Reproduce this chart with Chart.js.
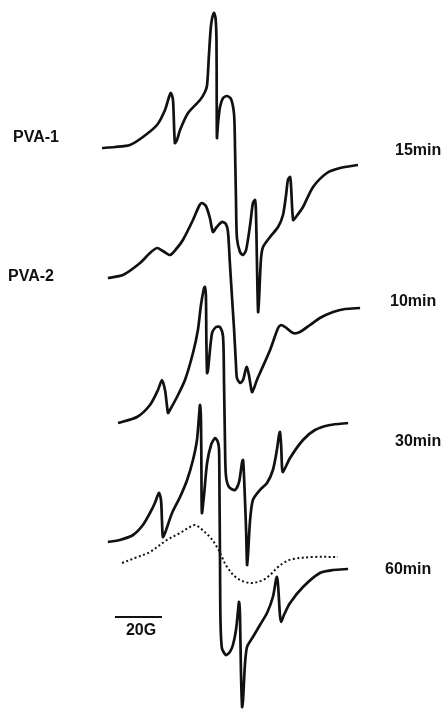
<!DOCTYPE html>
<html>
<head>
<meta charset="utf-8">
<script src="https://cdn.jsdelivr.net/npm/chart.js@4/dist/chart.umd.min.js"></script>
<style>
  html, body { margin: 0; padding: 0; background: #fff; }
  #wrap { width: 448px; height: 709px; }
</style>
</head>
<body>
<div id="wrap"><canvas id="esr" width="448" height="709"></canvas></div>
<script>
// ESR spectra: field offset from line centre (G) and signal (arb. units above baseline)
const field15 = [-55.3, -49.8, -43.4, -37.9, -31.9, -28.5, -26.8, -26.0, -25.1, -24.3, -23.4, -22.1, -18.7, -13.6, -11.5, -10.6, -9.8, -8.9, -7.7, -7.0, -6.6, -6.5, -6.4, -6.0, -5.1, -3.8, -2.1, -0.4, 0.9, 1.3, 1.7, 2.1, 3.4, 4.7, 6.0, 7.7, 8.9, 9.8, 10.2, 10.6, 11.1, 11.5, 12.3, 13.2, 16.2, 19.6, 21.7, 23.0, 23.8, 24.7, 25.1, 26.0, 27.2, 30.2, 34.5, 40.4, 46.0, 53.6];
const amp15 = [0, 1, 3, 11, 23, 38, 51, 55, 48, 5, 8, 18, 35, 48, 56, 63, 93, 123, 135, 130, 108, 48, 10, 23, 41, 50, 52, 49, 33, -2, -52, -90, -104, -107, -102, -77, -55, -52, -64, -112, -164, -152, -112, -99, -89, -79, -67, -47, -32, -29, -37, -72, -69, -59, -39, -25, -20, -17];

const field10 = [-52.8, -46.4, -39.1, -34.9, -31.9, -29.4, -26.4, -23.4, -20.9, -16.6, -14.0, -12.8, -11.1, -9.4, -8.1, -6.8, -4.3, -2.6, -1.7, -0.9, 0.0, 0.9, 1.7, 2.1, 3.4, 4.7, 6.2, 7.2, 8.5, 9.4, 10.6, 11.9, 16.2, 19.6, 20.9, 22.6, 26.0, 28.9, 33.2, 37.4, 43.0, 48.1, 54.5];
const amp10 = [0, 3, 15, 25, 30, 27, 23, 30, 38, 58, 72, 75, 72, 60, 46, 50, 56, 54, 46, 15, -19, -52, -87, -100, -105, -102, -89, -97, -114, -110, -102, -95, -72, -50, -47, -49, -55, -54, -47, -40, -34, -31, -30];

const field30 = [-48.5, -40.4, -34.9, -31.5, -29.8, -28.5, -27.7, -27.2, -26.4, -23.4, -20.0, -16.6, -14.5, -13.2, -11.9, -11.5, -11.1, -10.9, -10.6, -10.2, -8.5, -6.8, -5.1, -3.8, -3.4, -3.0, -2.6, -1.3, 1.3, 3.0, 4.3, 4.7, 5.1, 6.0, 6.4, 6.8, 7.7, 8.9, 11.9, 14.9, 17.4, 19.1, 20.0, 20.4, 20.9, 21.3, 21.7, 24.7, 30.2, 35.3, 41.7, 49.4];
const amp30 = [0, 6, 18, 33, 43, 33, 18, 10, 13, 26, 43, 70, 93, 118, 135, 136, 128, 83, 50, 53, 90, 96, 96, 86, 43, -17, -52, -64, -67, -59, -39, -37, -52, -107, -142, -132, -97, -77, -67, -60, -47, -27, -12, -9, -22, -45, -49, -35, -17, -7, -2, 0];

const field60 = [-52.8, -47.7, -42.1, -37.9, -34.9, -32.8, -31.1, -30.2, -29.8, -29.4, -28.5, -25.5, -22.1, -19.1, -16.6, -14.9, -14.0, -13.6, -13.2, -13.0, -12.8, -11.9, -10.6, -8.9, -7.2, -6.0, -5.5, -5.3, -5.1, -4.9, -4.3, -2.6, -0.9, 0.4, 1.7, 2.6, 3.0, 3.4, 3.8, 4.3, 4.7, 5.5, 6.4, 8.9, 11.9, 14.9, 17.4, 18.7, 19.1, 19.6, 20.4, 20.9, 22.1, 24.7, 30.2, 37.4, 43.0, 49.4];
const amp60 = [0, 2, 7, 17, 29, 39, 49, 42, 22, 5, 9, 29, 45, 62, 82, 102, 127, 137, 122, 72, 29, 47, 79, 97, 104, 100, 92, 42, -18, -78, -106, -113, -110, -103, -88, -68, -60, -73, -128, -165, -158, -123, -105, -95, -83, -71, -55, -38, -35, -43, -73, -80, -73, -61, -45, -31, -28, -27];

// broad reference spectrum (dotted)
const fieldRef = [-46.8, -41.3, -34.9, -27.7, -22.1, -17.9, -15.7, -13.6, -9.4, -6.4, -4.3, -2.1, 2.1, 7.7, 13.2, 16.2, 19.1, 22.6, 26.0, 34.5, 45.1];
const ampRef = [0, 5, 11, 23, 30, 36, 38, 35, 26, 16, 6, -4, -15, -20, -17, -12, -5, 1, 4, 6, 6];

const sampleNames = ["PVA-1", "PVA-2"];
const timeLabels = ["15min", "10min", "30min", "60min"];
const scaleBarG = 20;

// vertical stacking of the traces on the plot
const baseline = { m15: 561, m10: 431, m30: 286, m60: 167, ref: 146, bar: 92 };
const barStart = -49.8;

const pts = (xs, ys, off) => xs.map((x, i) => ({ x: x, y: ys[i] + off }));

const ink = "#111";
const solid = (data) => ({
  data: data,
  borderColor: ink,
  borderWidth: 2.7,
  pointRadius: 0,
  tension: 0.25,
  fill: false
});

const textPlugin = {
  id: "esrText",
  afterDraw(chart) {
    const ctx = chart.ctx;
    ctx.save();
    ctx.fillStyle = ink;
    ctx.textBaseline = "middle";
    ctx.font = "bold 16px 'Liberation Sans', Arial, sans-serif";
    ctx.textAlign = "left";
    ctx.fillText(sampleNames[0], 13, 138);
    ctx.fillText(sampleNames[1], 8, 277);
    ctx.fillText(timeLabels[0], 395, 151);
    ctx.fillText(timeLabels[1], 390, 302);
    ctx.fillText(timeLabels[2], 395, 442);
    ctx.fillText(timeLabels[3], 385, 570);
    ctx.font = "bold 16px 'Liberation Sans', Arial, sans-serif";
    ctx.textAlign = "center";
    ctx.fillText(scaleBarG + "G", 141, 631);
    ctx.restore();
  }
};

new Chart(document.getElementById("esr"), {
  type: "line",
  data: {
    datasets: [
      solid(pts(field15, amp15, baseline.m15)),
      solid(pts(field10, amp10, baseline.m10)),
      solid(pts(field30, amp30, baseline.m30)),
      solid(pts(field60, amp60, baseline.m60)),
      {
        data: pts(fieldRef, ampRef, baseline.ref),
        borderColor: ink,
        borderWidth: 2,
        borderDash: [2, 2.5],
        pointRadius: 0,
        tension: 0.35,
        fill: false
      },
      {
        data: [{ x: barStart, y: baseline.bar }, { x: barStart + scaleBarG, y: baseline.bar }],
        borderColor: ink,
        borderWidth: 2,
        pointRadius: 0,
        fill: false
      }
    ]
  },
  options: {
    responsive: false,
    animation: false,
    devicePixelRatio: 1,
    layout: { padding: 0 },
    scales: {
      x: { type: "linear", min: -98.7, max: 91.9, display: false },
      y: { type: "linear", min: 0, max: 709, display: false }
    },
    plugins: { legend: { display: false }, tooltip: { enabled: false } }
  },
  plugins: [textPlugin]
});
</script>
</body>
</html>
